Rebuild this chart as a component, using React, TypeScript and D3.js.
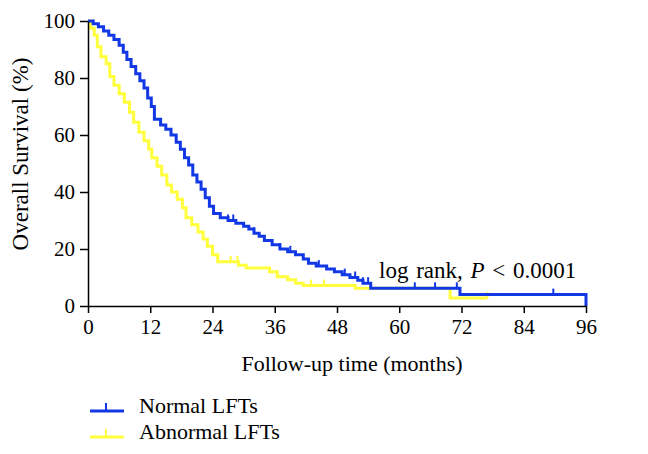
import React, { useEffect, useRef } from "react";
import * as d3 from "d3";

// Kaplan-Meier steps (time in months, survival in %)
const normalTime = [0, 1, 2, 3, 4, 5, 6, 6.8, 7.5, 8.3, 9.2, 10, 10.8, 11.5, 12.2, 12.8, 14, 15, 16, 17, 17.8, 18.6, 19.4, 20.2, 21, 21.8, 22.6, 23.4, 24.2, 25.5, 27, 28.5, 30, 31, 32, 33, 34, 35.5, 37, 38.5, 40, 41.5, 42.5, 44, 46, 47.5, 49, 50.5, 52, 53, 54.5, 71.7, 96];
const normalSurv = [100, 99, 98, 96.5, 95, 93.5, 91.5, 89, 86.5, 84, 81.5, 79, 76.5, 73, 70, 65.5, 63.5, 62, 60, 57.5, 55, 52, 49.5, 46, 43.5, 41, 38, 35, 32.5, 31, 30, 29, 28, 27, 25.5, 24.5, 23, 21.5, 20, 19, 18, 16.5, 15, 14, 13, 12, 11, 10, 9, 8, 6.2, 4, 0];
const normalCensor = [27, 28, 32, 37, 39, 44.5, 49.5, 51.5, 53, 54, 63, 66.9, 71.1, 89.7];

const abnormalTime = [0, 0.5, 1.2, 1.8, 2.5, 3.5, 4.2, 5, 6, 7, 8, 8.8, 9.8, 10.8, 11.7, 12.3, 13.3, 14.2, 15.2, 16.1, 17.2, 18.2, 18.9, 20, 21.2, 22.2, 23, 24, 25, 29, 30.5, 35, 36.5, 38.5, 40, 41.5, 51.5, 69.8, 77];
const abnormalSurv = [100, 97.5, 95, 91, 87.5, 85, 80.5, 77.5, 74.5, 71.5, 68, 64.5, 61, 58, 55, 52, 49, 46, 42.5, 40, 37.5, 34.5, 31, 28.5, 26, 23.5, 21, 18, 15.5, 14.3, 13.3, 12, 10.3, 9.2, 8, 7.2, 6.2, 2.8, 2.8];
const abnormalCensor = [27.5, 28.8, 43, 45.5, 77];

const xTicks = [0, 12, 24, 36, 48, 60, 72, 84, 96];
const yTicks = [0, 20, 40, 60, 80, 100];

const blue = "#1238e6";
const yellow = "#ffff3c";
const font = "'Liberation Serif', 'DejaVu Serif', serif";

const App = () => {
  const svgRef = useRef<SVGSVGElement>(null);

  useEffect(() => {
    const svg = d3.select(svgRef.current);
    svg.selectAll("*").remove();

    const x = d3.scaleLinear().domain([0, 96]).range([88, 586]);
    const y = d3.scaleLinear().domain([0, 100]).range([306, 21]);

    const line = d3
      .line<[number, number]>()
      .x((d) => x(d[0]))
      .y((d) => y(d[1]))
      .curve(d3.curveStepAfter);

    const stepAt = (times: number[], surv: number[], t: number) => {
      const i = d3.bisectRight(times, t) - 1;
      return surv[Math.max(0, i)];
    };

    const series = [
      { times: abnormalTime, surv: abnormalSurv, censor: abnormalCensor, color: yellow },
      { times: normalTime, surv: normalSurv, censor: normalCensor, color: blue },
    ];

    series.forEach((s) => {
      const pts = s.times.map((t, i) => [t, s.surv[i]] as [number, number]);
      svg
        .append("path")
        .attr("d", line(pts))
        .attr("fill", "none")
        .attr("stroke", s.color)
        .attr("stroke-width", 3);

      svg
        .selectAll(null)
        .data(s.censor)
        .enter()
        .append("line")
        .attr("x1", (d) => x(d))
        .attr("x2", (d) => x(d))
        .attr("y1", (d) => y(stepAt(s.times, s.surv, d)))
        .attr("y2", (d) => y(stepAt(s.times, s.surv, d)) - 6)
        .attr("stroke", s.color)
        .attr("stroke-width", 2);
    });

    const xAxis = svg
      .append("g")
      .attr("transform", `translate(0,${y(0)})`)
      .call(d3.axisBottom(x).tickValues(xTicks).tickSize(7).tickSizeOuter(0).tickPadding(6));

    const yAxis = svg
      .append("g")
      .attr("transform", `translate(${x(0)},0)`)
      .call(d3.axisLeft(y).tickValues(yTicks).tickSize(8).tickSizeOuter(0).tickPadding(5));

    [xAxis, yAxis].forEach((g) => {
      g.select(".domain").attr("stroke", "#000").attr("stroke-width", 1.5);
      g.selectAll(".tick line").attr("stroke", "#000").attr("stroke-width", 1.5);
      g.selectAll(".tick text")
        .attr("fill", "#000")
        .style("font-family", font)
        .style("font-size", "21px");
    });

    svg
      .append("text")
      .attr("x", 352)
      .attr("y", 371)
      .attr("text-anchor", "middle")
      .style("font-family", font)
      .style("font-size", "22px")
      .text("Follow-up time (months)");

    svg
      .append("text")
      .attr("transform", `translate(28,154) rotate(-90)`)
      .attr("text-anchor", "middle")
      .style("font-family", font)
      .style("font-size", "23px")
      .text("Overall Survival (%)");

    const note = svg
      .append("text")
      .attr("x", 379)
      .attr("y", 278)
      .style("font-family", font)
      .style("font-size", "23px")
      .style("word-spacing", "2px");
    note.append("tspan").text("log rank, ");
    note.append("tspan").attr("font-style", "italic").text("P");
    note.append("tspan").text(" < 0.0001");

    const legend = [
      { label: "Normal LFTs", color: blue, yPos: 411 },
      { label: "Abnormal LFTs", color: yellow, yPos: 437 },
    ];
    legend.forEach((l) => {
      svg.append("line").attr("x1", 90).attr("x2", 124).attr("y1", l.yPos).attr("y2", l.yPos)
        .attr("stroke", l.color).attr("stroke-width", 3);
      svg.append("line").attr("x1", 106).attr("x2", 106).attr("y1", l.yPos).attr("y2", l.yPos - 8)
        .attr("stroke", l.color).attr("stroke-width", 2);
      svg.append("text").attr("x", 139).attr("y", l.yPos + 2)
        .style("font-family", font).style("font-size", "22px").text(l.label);
    });
  }, []);

  return (
    <div style={{ position: "absolute", left: 0, top: 0 }}>
      <svg ref={svgRef} width={648} height={454} style={{ background: "#fff", display: "block" }}></svg>
    </div>
  );
};

export default App;
